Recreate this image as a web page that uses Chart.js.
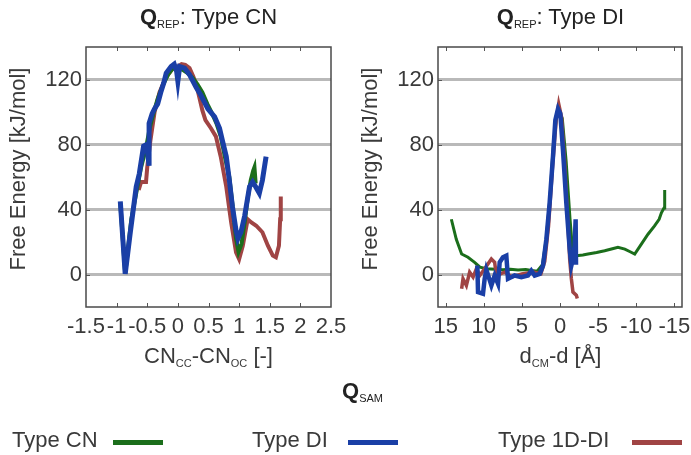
<!DOCTYPE html>
<html>
<head>
<meta charset="utf-8">
<script src="https://cdn.jsdelivr.net/npm/chart.js@4.4.0/dist/chart.umd.min.js"></script>
<style>
  body { margin: 0; background: #fff; }
  #wrap { position: relative; width: 691px; height: 455px; font-family: "Liberation Sans", Arial, sans-serif; color: #3a3a3a; }
  canvas { position: absolute; left: 0; top: 0; }
  .t { position: absolute; font-size: 22px; line-height: 22px; white-space: nowrap; }
  .t sub { font-size: 11px; vertical-align: -4px; line-height: 0; }
  .center { text-align: center; }
  .ytitle { width: 300px; text-align: center; transform: rotate(-90deg); }
  .swatch { position: absolute; width: 50px; height: 5px; }
</style>
</head>
<body>
<div id="wrap">
  <canvas id="cnChart" width="691" height="455"></canvas>
  <canvas id="dChart" width="691" height="455"></canvas>

  <div class="t center" style="left:0;width:417px;top:6px;color:#222"><b>Q</b><sub>REP</sub>: Type CN</div>
  <div class="t center" style="left:438px;width:245px;top:6px;color:#222"><b>Q</b><sub>REP</sub>: Type DI</div>

  <div class="t ytitle" style="left:-132px;top:158px">Free Energy [kJ/mol]</div>
  <div class="t ytitle" style="left:220px;top:158px">Free Energy [kJ/mol]</div>

  <div class="t center" style="left:0;width:417px;top:345px">CN<sub>CC</sub>-CN<sub>OC</sub> [-]</div>
  <div class="t center" style="left:438px;width:245px;top:345px">d<sub>CM</sub>-d [Å]</div>

  <div class="t" style="left:342px;top:380px;color:#222"><b>Q</b><sub>SAM</sub></div>

  <div class="t" style="left:12px;top:429px">Type CN</div>
  <div class="swatch" style="left:113px;top:440px;background:#1b6e1b"></div>
  <div class="t" style="left:252px;top:429px">Type DI</div>
  <div class="swatch" style="left:348px;top:440px;background:#1a3fa6"></div>
  <div class="t" style="left:498px;top:429px">Type 1D-DI</div>
  <div class="swatch" style="left:632px;top:440px;background:#a04444"></div>
</div>
<script>
// tick values
const yTicks = [0, 40, 80, 120];
const cnTicks = [-1.5, -1, -0.5, 0, 0.5, 1, 1.5, 2, 2.5];
const dTicks = [15, 10, 5, 0, -5, -10, -15];

// Q_REP: Type CN  (x = CNcc-CNoc, y = free energy)
const cnGreenX = [-0.94, -0.86, -0.76, -0.67, -0.6, -0.52, -0.46, -0.4, -0.33, -0.25, -0.16, -0.08, 0.0, 0.08, 0.16, 0.24, 0.32, 0.4, 0.48, 0.56, 0.63, 0.7, 0.77, 0.84, 0.9, 0.95, 0.99, 1.04, 1.09, 1.14, 1.19, 1.23, 1.25, 1.27];
const cnGreenY = [44, 0.5, 34, 52, 66, 78, 90, 99, 108, 116, 123, 127, 127, 126, 124, 121, 117, 112, 105, 99, 93, 85, 72, 60, 40, 22, 14, 19, 32, 47, 58, 64, 66, 56];

const cnBlueX = [-0.94, -0.86, -0.78, -0.68, -0.63, -0.56, -0.51, -0.47, -0.47, -0.42, -0.38, -0.33, -0.28, -0.23, -0.19, -0.11, -0.06, -0.02, 0.0, 0.03, 0.11, 0.19, 0.3, 0.38, 0.49, 0.6, 0.68, 0.73, 0.79, 0.84, 0.89, 0.95, 0.98, 1.03, 1.09, 1.17, 1.22, 1.27, 1.33, 1.38, 1.44];
const cnBlueY = [45, 0.4, 25, 54, 62, 79, 80, 67, 93, 99, 102, 105, 112, 118, 124, 128, 129.5, 125, 119, 128, 127, 123, 115, 110, 102, 97, 90, 82, 72.6, 58, 42, 27, 22, 26, 36, 54, 57, 54, 50, 58, 72.6];

const cnBrownX = [-0.64, -0.6, -0.52, -0.5, -0.45, -0.38, -0.3, -0.2, -0.1, 0.0, 0.06, 0.12, 0.19, 0.25, 0.3, 0.35, 0.4, 0.45, 0.54, 0.62, 0.7, 0.79, 0.87, 0.95, 1.0, 1.06, 1.14, 1.2, 1.28, 1.38, 1.47, 1.55, 1.6, 1.65, 1.67, 1.68];
const cnBrownY = [52, 57, 57, 66, 82, 100, 112, 121, 126, 128, 129.5, 129, 127, 122, 117, 109, 101, 95, 90, 85, 72.5, 54, 32, 13.6, 9.5, 17.7, 34, 32, 30, 26, 17.7, 11.6, 10.6, 17.7, 34, 48];

// Q_REP: Type DI  (x = dCM-d in Å, reversed axis)
const dGreenX = [14.25, 13.6, 12.9, 12.07, 11.2, 10.5, 9.66, 8.5, 7.5, 6.5, 5.5, 4.5, 3.7, 3.0, 2.3, 1.8, 1.3, 0.9, 0.5, 0.1, -0.3, -0.8, -1.3, -1.7, -2.14, -3.0, -3.67, -4.8, -5.86, -7.0, -7.6, -8.5, -9.2, -9.8, -10.67, -11.54, -12.4, -13.0, -13.3, -13.64, -13.73];
const dGreenY = [34, 21.7, 12.6, 10.6, 7.5, 4.5, 3.5, 3.2, 3.0, 3.2, 2.8, 3.0, 2.4, 2.0, 6, 22, 48, 78, 96, 100, 96, 70, 35, 12, 11.6, 12, 12.6, 13.5, 14.6, 16, 16.7, 15.6, 14, 12.6, 18.7, 24.8, 29.9, 34, 38, 41, 52];

const dBlueX = [10.84, 10.75, 10.1, 9.88, 9.66, 9.0, 8.57, 8.13, 7.91, 7.48, 7.04, 6.82, 5.95, 5.07, 4.2, 3.76, 3.32, 2.67, 2.23, 1.79, 1.36, 0.92, 0.61, 0.26, -0.04, -0.39, -0.83, -1.27, -1.49, -1.7, -1.92, -2.05, -2.1];
const dBlueY = [5.5, -10.8, -11.8, -2.6, 3, -6.7, -0.6, -5.7, 7.5, 10.6, 11.6, -2.6, -0.6, -1.6, -0.6, 2.4, -0.6, 0.4, 5.5, 21.7, 44, 72.6, 95, 102, 99, 76.6, 44, 15.6, 5.5, 9.5, 17.7, 34, 6];

const dBrownX = [12.9, 12.72, 12.28, 11.85, 11.4, 10.97, 10.5, 9.88, 9.0, 8.57, 8.35, 7.26, 6.3, 5.0, 3.5, 2.5, 2.0, 1.5, 1.0, 0.5, 0.17, -0.2, -0.6, -1.0, -1.27, -1.49, -1.7, -2.14, -2.27];
const dBrownY = [-8.7, -2.6, -6.7, 1.4, -1.6, 3.5, -0.5, 3.5, 9.5, 7.5, -0.6, 1.4, -1.5, 0.4, 1.5, 0.5, 8, 30, 65, 95, 105, 97, 70, 35, 9.5, -2.6, -10.8, -12.8, -14.8];

const GREEN = '#1b6e1b';
const BLUE = '#1a3fa6';
const BROWN = '#a04444';
const FONT = { family: '"Liberation Sans", Arial, sans-serif', size: 22 };

function pts(xs, ys) {
    return xs.map((x, i) => ({ x: x, y: ys[i] }));
}

// frame around the plot + small inward tick marks
const frame = {
    id: 'frame',
    afterDraw(chart) {
        const { ctx, chartArea: a, scales } = chart;
        ctx.save();
        ctx.strokeStyle = '#555';
        ctx.lineWidth = 1;
        ctx.beginPath();
        scales.x.ticks.forEach(t => {
            const px = Math.round(scales.x.getPixelForValue(t.value)) + 0.5;
            if (px <= a.left + 2 || px >= a.right - 2) return;
            ctx.moveTo(px, a.bottom); ctx.lineTo(px, a.bottom - 4);
            ctx.moveTo(px, a.top); ctx.lineTo(px, a.top + 4);
        });
        scales.y.ticks.forEach(t => {
            const py = Math.round(scales.y.getPixelForValue(t.value)) + 0.5;
            ctx.moveTo(a.left, py); ctx.lineTo(a.left + 4, py);
        });
        ctx.stroke();
        ctx.lineWidth = 1.5;
        ctx.strokeStyle = '#4a4a4a';
        ctx.strokeRect(a.left, a.top, a.right - a.left, a.bottom - a.top);
        ctx.restore();
    }
};

function makeChart(id, series, xMin, xMax, xTicks, reverse, padLeft, padRight) {
    const ctx = document.getElementById(id).getContext('2d');
    return new Chart(ctx, {
        type: 'line',
        data: {
            datasets: series.map(s => ({
                label: s.label,
                data: s.data,
                borderColor: s.color,
                borderWidth: s.width,
                pointRadius: 0,
                tension: 0,
                fill: false,
                order: s.order
            }))
        },
        options: {
            responsive: false,
            animation: false,
            layout: { padding: { left: padLeft, right: padRight, top: 47, bottom: 0 } },
            plugins: {
                legend: { display: false },
                tooltip: { enabled: false }
            },
            scales: {
                x: {
                    type: 'linear',
                    min: xMin,
                    max: xMax,
                    reverse: reverse,
                    afterBuildTicks: scale => { scale.ticks = xTicks.map(v => ({ value: v })); },
                    afterFit: scale => { scale.height = 148; scale.paddingLeft = 0; scale.paddingRight = 0; },
                    grid: { display: false },
                    border: { display: false },
                    ticks: {
                        font: FONT,
                        color: '#3a3a3a',
                        padding: -1,
                        autoSkip: false,
                        maxRotation: 0,
                        callback: v => String(v)
                    }
                },
                y: {
                    min: -20,
                    max: 140,
                    afterBuildTicks: scale => { scale.ticks = yTicks.map(v => ({ value: v })); },
                    afterFit: scale => { scale.width = 86; scale.paddingTop = 0; scale.paddingBottom = 0; },
                    grid: { color: '#b9b9b9', lineWidth: 3, drawTicks: false },
                    border: { display: false },
                    ticks: {
                        font: FONT,
                        color: '#3a3a3a',
                        padding: 4,
                        callback: v => String(v)
                    }
                }
            }
        },
        plugins: [frame]
    });
}

makeChart('cnChart', [
    { label: 'Type CN', data: pts(cnGreenX, cnGreenY), color: GREEN, width: 4, order: 1 },
    { label: 'Type DI', data: pts(cnBlueX, cnBlueY), color: BLUE, width: 5, order: 0 },
    { label: 'Type 1D-DI', data: pts(cnBrownX, cnBrownY), color: BROWN, width: 4, order: 2 }
], -1.5, 2.5, cnTicks, false, 0, 360);

makeChart('dChart', [
    { label: 'Type CN', data: pts(dGreenX, dGreenY), color: GREEN, width: 3, order: 2 },
    { label: 'Type DI', data: pts(dBlueX, dBlueY), color: BLUE, width: 4.5, order: 0 },
    { label: 'Type 1D-DI', data: pts(dBrownX, dBrownY), color: BROWN, width: 3.5, order: 1 }
], -16, 16, dTicks, true, 352, 9);
</script>
</body>
</html>
